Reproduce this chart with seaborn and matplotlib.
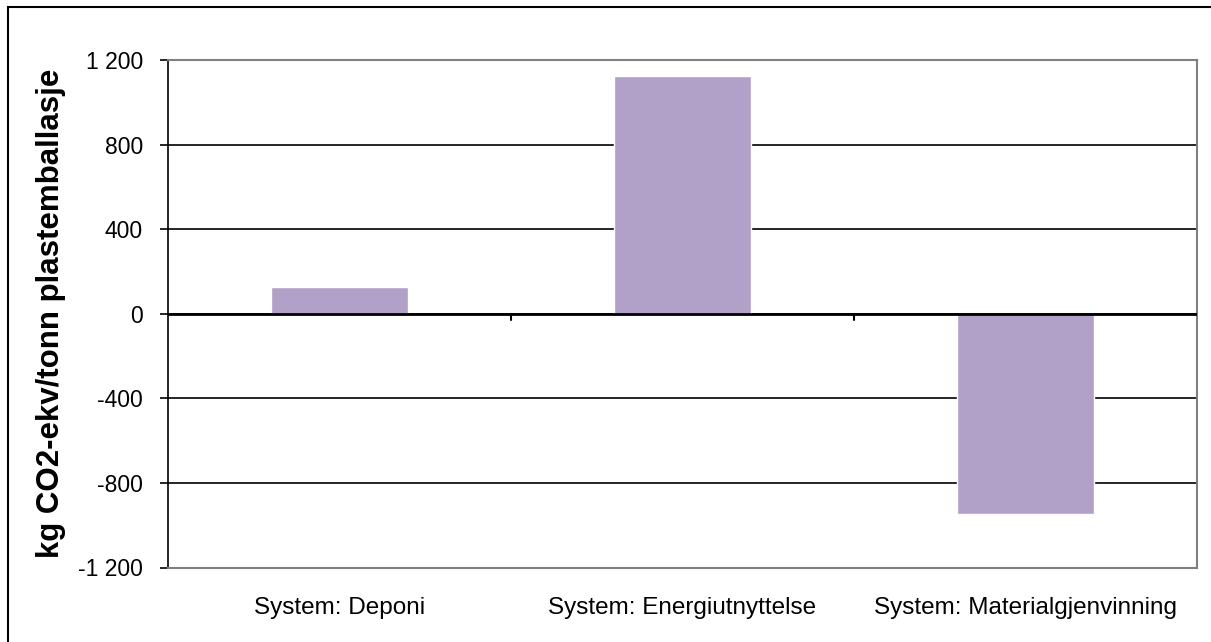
import matplotlib
matplotlib.use("Agg")
import matplotlib.pyplot as plt
import seaborn as sns
import pandas as pd
from matplotlib.patches import Rectangle
from matplotlib.ticker import FuncFormatter

categories = ["System: Deponi", "System: Energiutnyttelse", "System: Materialgjenvinning"]
values = [125, 1125, -947]
y_label = "kg CO2-ekv/tonn plastemballasje"

df = pd.DataFrame({"kategori": categories, "verdi": values})

sns.set_theme(style="white")
plt.rcParams["font.family"] = ["Liberation Sans", "DejaVu Sans"]
plt.rcParams["text.color"] = "black"
plt.rcParams["xtick.color"] = "black"
plt.rcParams["ytick.color"] = "black"
plt.rcParams["axes.labelcolor"] = "black"

fig = plt.figure(figsize=(12.11, 6.42), dpi=100)
ax = fig.add_axes([168/1211, 1-567.5/642, (1197-168)/1211, (567.5-60)/642])

sns.barplot(data=df, x="kategori", y="verdi", color="#B1A0C7", width=0.4,
            saturation=1, ax=ax, zorder=3)

ax.set_ylim(-1200, 1200)
ax.set_xlim(-0.5, 2.5)
ax.set_yticks([-1200, -800, -400, 0, 400, 800, 1200])
ax.yaxis.set_major_formatter(FuncFormatter(lambda v, p: f"{int(v):,}".replace(",", " ")))
ax.grid(axis="y", color="black", linewidth=1.2, zorder=1)
ax.set_axisbelow(True)

for s in ["top", "right", "bottom"]:
    ax.spines[s].set_color("#808080")
    ax.spines[s].set_linewidth(1.5)
ax.spines["left"].set_color("black")
ax.spines["left"].set_linewidth(1.2)

ax.tick_params(axis="y", which="both", left=True, length=6, width=1.2, color="black",
               labelsize=16.5, pad=12, direction="out", labelcolor="black")
ax.tick_params(axis="x", bottom=False, labelsize=17.5, pad=15, labelcolor="black")

# x-axis line at zero with category separator ticks
ax.axhline(0, color="black", linewidth=2, zorder=4)
for xs in [0.5, 1.5]:
    ax.plot([xs, xs], [0, -30], color="black", linewidth=1.5, zorder=4, clip_on=False)

ax.set_xlabel("")
ax.set_ylabel(y_label, fontsize=22.5, fontweight="bold", labelpad=9, color="black")

fig.patches.append(Rectangle((8/1211, -0.1), 1.2, 1 - 7/642 + 0.1, transform=fig.transFigure,
                             fill=False, edgecolor="black", linewidth=1.5))

fig.savefig("out.png", dpi=100)
